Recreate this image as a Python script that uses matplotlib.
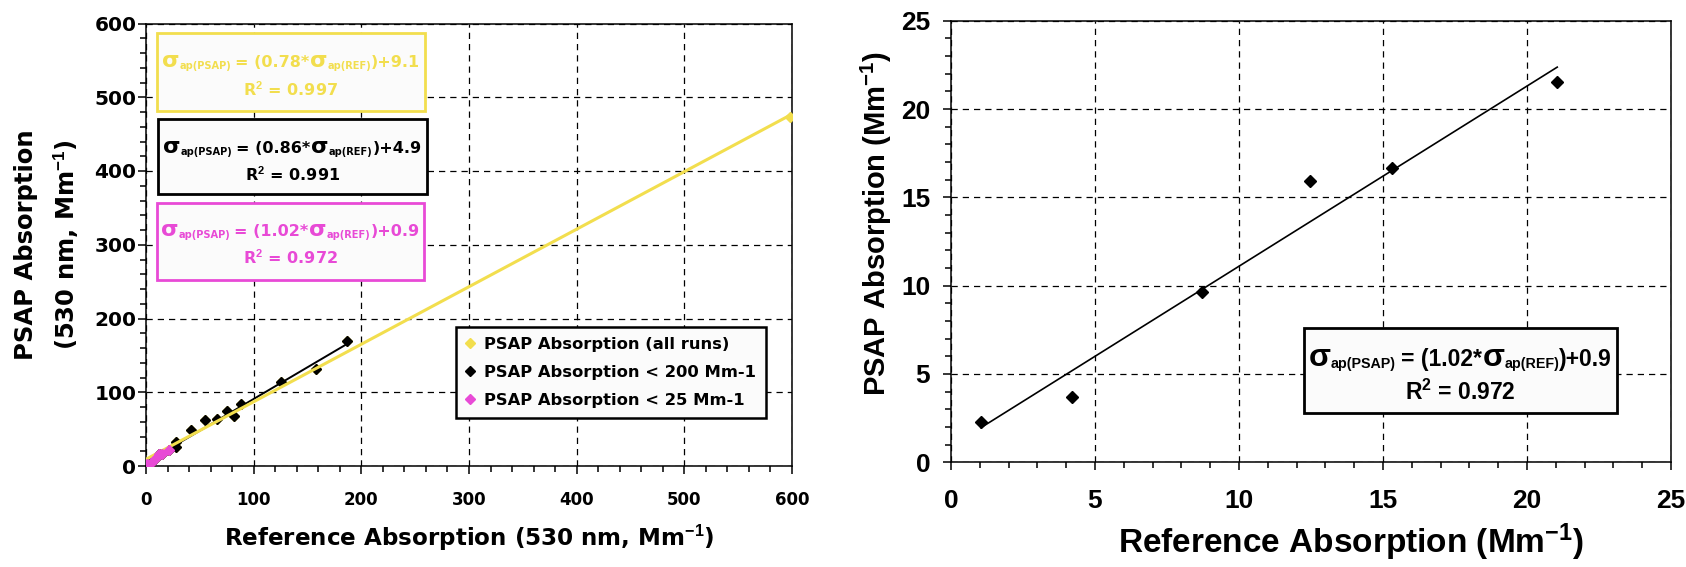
import matplotlib
matplotlib.use("Agg")
import matplotlib.pyplot as plt
from matplotlib.patches import Rectangle
from matplotlib.lines import Line2D
from matplotlib.ticker import MultipleLocator

plt.rcParams['font.family'] = ['Liberation Sans', 'DejaVu Sans']
plt.rcParams['font.weight'] = 'bold'
plt.rcParams['mathtext.fontset'] = 'custom'
plt.rcParams['mathtext.rm'] = 'Liberation Sans:bold'
plt.rcParams['mathtext.it'] = 'Liberation Sans:bold'
plt.rcParams['mathtext.bf'] = 'Liberation Sans:bold'

# ---- data ----
# PSAP < 25 Mm-1 runs
ref_small = [1.04, 4.19, 8.7, 12.47, 15.3, 21.05]
psap_small = [2.3, 3.68, 9.66, 15.93, 16.65, 21.55]
# PSAP < 200 Mm-1 runs (besides the small ones)
ref_mid = [28.2, 28.2, 41.5, 54.5, 66.0, 75.2, 81.7, 88.0, 125.7, 158.2, 186.6]
psap_mid = [32.6, 25.8, 48.4, 62.0, 64.3, 74.2, 67.4, 83.7, 114.0, 132.0, 169.2]
# remaining run (all runs)
ref_high = [598.0]
psap_high = [473.0]

# linear fits: slope, intercept, r2
fit_all = (0.78, 9.1, 0.997)
fit_200 = (0.86, 4.9, 0.991)
fit_25 = (1.02, 0.9, 0.972)

legend_labels = ['PSAP Absorption (all runs)', 'PSAP Absorption < 200 Mm-1',
                 'PSAP Absorption < 25 Mm-1']

YEL = '#F2DE4E'
PINK = '#E84AD6'
WIDE = 'DejaVu Sans'   # left panel text is drawn wider in the original

W, H = 1686, 567
fig = plt.figure(figsize=(W / 100, H / 100), dpi=100)


def fx(x):
    return x / W


def fy(y):
    return 1 - y / H


ax1 = fig.add_axes([fx(146), fy(466), fx(792) - fx(146), fy(23.5) - fy(466)])
ax2 = fig.add_axes([fx(951), fy(462.3), fx(1671) - fx(951), fy(20.7) - fy(462.3)])

for ax in (ax1, ax2):
    ax.grid(True, which='major', color='black', linestyle=(0, (5, 4)), linewidth=0.9)
    ax.set_axisbelow(True)
    for s in ax.spines.values():
        s.set_linewidth(1.1)
    ax.tick_params(which='both', direction='out', width=1.1, colors='black')
    ax.tick_params(which='major', length=6)
    ax.tick_params(which='minor', length=4.5)

# ---- left panel ----
all_x = ref_small + ref_mid + ref_high
all_y = psap_small + psap_mid + psap_high
x200 = ref_small + ref_mid
y200 = psap_small + psap_mid


def fit_line(ax, xs, fit, **kw):
    x0, x1 = min(xs), max(xs)
    ax.plot([x0, x1], [fit[0] * x0 + fit[1], fit[0] * x1 + fit[1]], **kw)


ax1.plot(all_x, all_y, 'D', color=YEL, ms=5.5, zorder=3)
ax1.plot(x200, y200, 'D', color='black', ms=5.5, zorder=4)
fit_line(ax1, x200, fit_200, color='black', lw=1.4, zorder=5)
fit_line(ax1, [0] + all_x, fit_all, color=YEL, lw=2.2, zorder=5)
ax1.plot(ref_small, psap_small, 'D', color=PINK, ms=5.5, zorder=6)
fit_line(ax1, ref_small, fit_25, color=PINK, lw=1.4, zorder=6)

ax1.set_xlim(0, 600)
ax1.set_ylim(0, 600)
ax1.xaxis.set_major_locator(MultipleLocator(100))
ax1.xaxis.set_minor_locator(MultipleLocator(20))
ax1.yaxis.set_major_locator(MultipleLocator(100))
ax1.yaxis.set_minor_locator(MultipleLocator(20))
ax1.tick_params(axis='x', labelsize=12, pad=12)
ax1.tick_params(axis='y', labelsize=14.5, pad=1)
for lab in ax1.get_xticklabels() + ax1.get_yticklabels():
    lab.set_fontfamily(WIDE)
ax1.set_xlabel('Reference Absorption (530 nm, Mm$^{-1}$)', fontsize=16.6,
               fontweight='bold', family=WIDE)
ax1.xaxis.label.set_va('center')
ax1.xaxis.set_label_coords(0.5, -0.162)
ax1.set_ylabel('PSAP Absorption\n(530 nm, Mm$^{-1}$)', fontsize=17.5,
               fontweight='bold', family=WIDE, linespacing=1.6)
ax1.yaxis.label.set_va('center')
ax1.yaxis.set_label_coords(-0.152, 0.5)

handles = [Line2D([], [], marker='D', ls='none', color=YEL, ms=5),
           Line2D([], [], marker='D', ls='none', color='black', ms=5),
           Line2D([], [], marker='D', ls='none', color=PINK, ms=5)]
leg = ax1.legend(handles, legend_labels, loc='upper left',
                 bbox_to_anchor=(fx(456), fy(327)), bbox_transform=fig.transFigure,
                 fancybox=False, framealpha=1, facecolor='#fbfbfb', edgecolor='black',
                 prop={'family': WIDE, 'size': 11.8, 'weight': 'bold'},
                 handlelength=0.5, handletextpad=0.6, labelspacing=0.8,
                 borderpad=0.6, borderaxespad=0)
leg.get_frame().set_linewidth(1.8)

# ---- right panel ----
ax2.plot(ref_small, psap_small, 'D', color='black', ms=6, zorder=4)
fit_line(ax2, ref_small, fit_25, color='black', lw=1.2, zorder=5)
ax2.set_xlim(0, 25)
ax2.set_ylim(0, 25)
ax2.xaxis.set_major_locator(MultipleLocator(5))
ax2.xaxis.set_minor_locator(MultipleLocator(1))
ax2.yaxis.set_major_locator(MultipleLocator(5))
ax2.yaxis.set_minor_locator(MultipleLocator(1))
ax2.tick_params(axis='both', labelsize=19)
ax2.tick_params(axis='x', pad=13)
ax2.tick_params(axis='y', pad=9)
ax2.set_xlabel('Reference Absorption (Mm$^{-1}$)', fontsize=24, fontweight='bold')
ax2.xaxis.label.set_va('center')
ax2.xaxis.set_label_coords(0.556, -0.18)
ax2.set_ylabel('PSAP Absorption (Mm$^{-1}$)', fontsize=21, fontweight='bold')
ax2.yaxis.label.set_va('center')
ax2.yaxis.set_label_coords(-0.103, 0.54)


# ---- equation boxes ----
renderer = fig.canvas.get_renderer()


def rich_line(cx, cy, pieces, color, main, family):
    arts = []
    total = 0
    for s, size, dy, gap in pieces:
        t = fig.text(0, 0, s, fontsize=size, color=color, ha='left', va='baseline',
                     fontweight='bold', family=family, zorder=10)
        w = t.get_window_extent(renderer=renderer).width
        arts.append((t, dy, gap, w))
        total += w + gap
    x = cx - total / 2
    base = cy + 0.36 * main * 100 / 72
    for t, dy, gap, w in arts:
        x += gap
        t.set_position((fx(x), fy(base - dy)))
        x += w


def eq_box(x0, y0, x1, y1, fit, color, main, l1, l2, family):
    fig.add_artist(Rectangle((fx(x0), fy(y1)), fx(x1) - fx(x0), fy(y0) - fy(y1),
                             transform=fig.transFigure, facecolor='#fbfbfb',
                             edgecolor=color, linewidth=2, zorder=9))
    big, sub = main * 1.4, main * 0.62
    g = main * 0.3
    pieces = [('σ', big, 0, 0), ('ap(PSAP)', sub, -2, 0),
              ('= (%.2f*' % fit[0], main, 0, g), ('σ', big, 0, 1),
              ('ap(REF)', sub, -2, 0), (')+%.1f' % fit[1], main, 0, 0)]
    cx = (x0 + x1) / 2
    rich_line(cx, y0 + l1, pieces, color, main, family)
    fig.text(fx(cx), fy(y0 + l2), 'R$^2$ = %.3f' % fit[2], fontsize=main, color=color,
             ha='center', va='center', fontweight='bold', family=family, zorder=10)


eq_box(157, 33, 425, 111, fit_all, YEL, 11.5, 28.5, 57, WIDE)
eq_box(158, 119, 427, 194, fit_200, 'black', 11.5, 28, 56, WIDE)
eq_box(157, 203, 424, 280, fit_25, PINK, 11.5, 27, 55, WIDE)
eq_box(1304, 328, 1617, 413, fit_25, 'black', 16.5, 30, 64, 'Liberation Sans')

fig.savefig('out.png', dpi=100)
